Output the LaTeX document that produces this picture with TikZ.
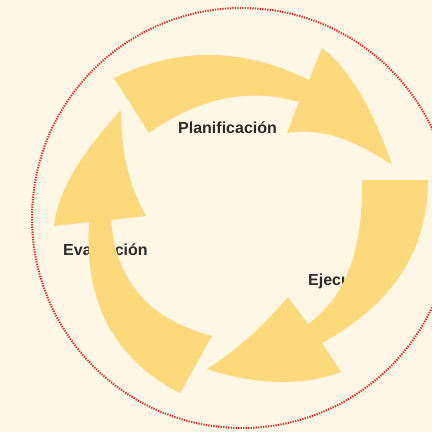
\documentclass[tikz,border=0pt]{standalone}
\usepackage{fontspec}
\usepackage{xcolor}
\usepackage{tikz}
\newfontfamily\labelfont{Liberation Sans}

\definecolor{paper}{HTML}{FEF7E5}
\definecolor{arrowyellow}{HTML}{FCD97A}
\definecolor{ringred}{HTML}{E62A2E}
\definecolor{labelgray}{HTML}{2B2B2B}

\tikzset{
  cyclearrow/.style={fill=arrowyellow},
  phaselabel/.style={anchor=base west, inner sep=0pt, text=labelgray,
    font=\labelfont\bfseries\fontsize{16}{19}\selectfont},
  outerring/.style={ringred, line width=2pt, dash pattern=on 1.3pt off 1.2pt}
}

\begin{document}
\begin{tikzpicture}[x=1pt, y=-1pt]
                % Background
                \useasboundingbox (0,0) rectangle (432,432);
                \fill[paper] (0,0) rectangle (432,432);
                \clip (0,0) rectangle (432,432);

                % Dotted ring
                \draw[outerring] (242,218) circle [radius=210];

                % Phase labels (the arrows lie over them)
                \node[phaselabel] (plan) at (178,133) {Planificación};
                \node[phaselabel] (eval) at (63,255) {Evaluación};
                \node[phaselabel] (ejec) at (308,285) {Ejecución};

                % Top arrow
                \fill[cyclearrow] (114,78) .. controls (178,46.7) and (243,47.3) .. (309,80)
                    -- (322,48) .. controls (349.3,69.3) and (372.7,108.3) .. (392,165)
                    .. controls (353.7,138.3) and (318.7,127.7) .. (287,133)
                    -- (299,102) .. controls (249,87.3) and (199,97.7) .. (149,133) -- cycle;

                % Right arrow
                \fill[cyclearrow] (362,180) -- (428,180)
                    .. controls (428,250) and (392.7,304.3) .. (322,343)
                    -- (341,372) .. controls (301.7,386.3) and (257,385.3) .. (207,369)
                    .. controls (234.7,351.7) and (261.7,327.7) .. (288,297)
                    -- (308,324) .. controls (345.3,298) and (363.3,250) .. (362,180) -- cycle;

                % Left arrow
                \fill[cyclearrow] (180,393) -- (212,336)
                    .. controls (149.7,320) and (116,281.3) .. (111,220)
                    -- (146,216) .. controls (129,186) and (120.7,150.7) .. (121,110)
                    .. controls (79.3,155.3) and (57,194) .. (54,226)
                    -- (89,222) .. controls (84,302.3) and (114.3,359.3) .. (180,393) -- cycle;
            \end{tikzpicture}
\end{document}
